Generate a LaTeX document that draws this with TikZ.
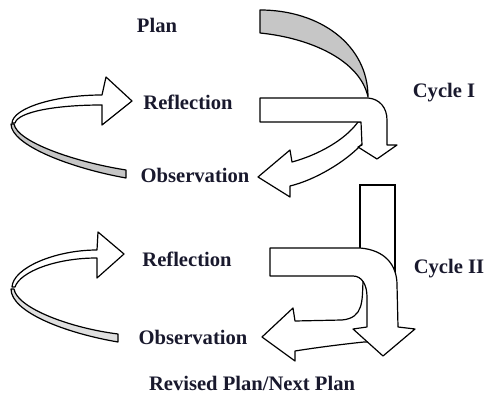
\documentclass[tikz,border=0pt]{standalone}
\usepackage{fontspec}
\setmainfont{Liberation Serif}
\usepackage{tikz}

\definecolor{inknavy}{RGB}{25,25,45}
\tikzset{
	lbl/.style={font=\fontsize{10.3}{12}\selectfont\bfseries, text=inknavy, inner sep=0pt},
	blockarrow/.style={draw=black, fill=white, line width=0.6pt, line join=round},
	band/.style={draw=black, fill=gray!45, line width=0.6pt, line join=round},
}

\begin{document}
\begin{tikzpicture}[x=0.5pt,y=-0.5pt]
		\useasboundingbox (0,0) rectangle (486,394);
		% labels
		\node[lbl] (plan) at (157,25) {Plan};
		\node[lbl] (refl1) at (188,102) {Reflection};
		\node[lbl] (cyc1) at (444,93) {Cycle I};
		\node[lbl] (obs1) at (195,175) {Observation};
		\node[lbl] (refl2) at (187,259) {Reflection};
		\node[lbl] (cyc2) at (449,269) {Cycle II};
		\node[lbl] (obs2) at (193,337) {Observation};
		\node[lbl] (revised) at (252,383) {Revised Plan/Next Plan};

		% cycle I: turn towards observation
		\draw[blockarrow] (358,122) .. controls (345,140) and (318,155) .. (292,162)
			-- (290,150) -- (258,177) -- (290,197) -- (290,186)
			.. controls (315,180) and (345,162) .. (361,145) -- (366,140) -- (366,122) -- cycle;
		% cycle I: bent arrow
		\draw[blockarrow] (260,98) -- (368,98) .. controls (380,99) and (387,108) .. (387,120)
			-- (387,145) -- (397,145) -- (377,159) -- (358,147) -- (362,145) -- (361,122)
			-- (260,122) -- cycle;
		% plan crescent
		\draw[band] (260,10) -- (260,33) .. controls (310,38) and (360,60) .. (368,97)
			.. controls (368,45) and (320,10) .. (260,10) -- cycle;

		% cycle I: loop back to reflection
		\draw[band] (11,124) .. controls (11,145) and (70,168) .. (126,178) -- (126,170)
			.. controls (75,162) and (17,142) .. (14,124) -- cycle;
		\draw[blockarrow] (12,123) .. controls (13,108) and (55,95) .. (102,95)
			-- (106,77) -- (132,101) -- (102,125) -- (102,105)
			.. controls (55,105) and (18,112) .. (15,123) -- cycle;

		% cycle II: stem from cycle I
		\fill[white] (360,185) rectangle (395,284);
		\draw[line width=0.6pt] (360,248) -- (360,185) -- (395,185) -- (395,284);
		% cycle II: turn towards observation
		\draw[blockarrow] (363,282) .. controls (362,300) and (364,318) .. (342,320) -- (295,321)
			-- (293,308) -- (262,337) -- (295,361) -- (295,351)
			.. controls (320,347) and (345,344) .. (364,342) -- (372,342) -- (372,285) -- cycle;
		% cycle II: bent arrow
		\draw[blockarrow] (270,248) -- (360,248) .. controls (385,250) and (397,265) .. (397,285)
			-- (398,327) -- (415,329) -- (383,356) -- (353,329) -- (367,327) -- (367,297)
			.. controls (367,285) and (362,276) .. (353,276) -- (270,276) -- cycle;

		% cycle II: loop back to reflection
		\draw[band, fill=gray!25] (11,289) .. controls (11,312) and (65,333) .. (118,342) -- (118,334)
			.. controls (70,328) and (17,308) .. (14,289) -- cycle;
		\draw[blockarrow] (12,287) .. controls (13,268) and (55,250) .. (97,250)
			-- (98,232) -- (124,254) -- (97,278) -- (97,258)
			.. controls (55,258) and (20,272) .. (15,287) -- cycle;
\end{tikzpicture}
\end{document}
